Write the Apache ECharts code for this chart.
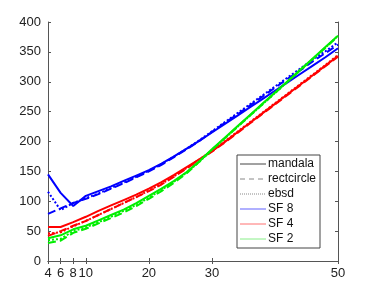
<!DOCTYPE html>
<html>
<head>
<meta charset="utf-8">
<script src="https://cdn.jsdelivr.net/npm/echarts@6/dist/echarts.min.js"></script>
<style>html,body{margin:0;padding:0;background:#fff}#c{width:374px;height:295px}</style>
</head>
<body>
<div id="c"></div>
<script>
const xs = [4,6,8,10,12,14,16,18,20,22,24,26,28,30,32,34,36,38,40,42,44,46,48,50];
const xTicks = [4,6,8,10,20,30,50];
const yTicks = [0,50,100,150,200,250,300,350,400];

const sf8Mandala    = [145,114,92,109,117,125,134,143,152,163,175,188,201,215,229,243,257,271,285,299,313,327,341,356];
const sf8Rectcircle = [79,88,97,104,112,121,130,140,150,161,174,187,201,216,231,245,260,275,290,305,319,334,348,362];
const sf8Ebsd       = [116,85,97,105,113,122,131,141,151,162,175,188,202,217,232,247,262,277,292,307,322,337,351,366];

const sf4Mandala    = [57,57,65,74,84,93,102,111,121,132,144,157,170,184,199,215,231,247,263,279,295,311,327,343];
const sf4Rectcircle = [42,50,59,67,77,87,97,107,117,128,141,155,169,183,198,214,230,246,262,278,294,310,326,342];
const sf4Ebsd       = [46,48,58,67,77,87,97,107,118,129,142,156,170,184,200,216,232,248,264,280,296,312,328,345];

const sf2Mandala    = [38,43,53,59,68,77,86,97,109,121,134,149,167,187,206,225,244,263,282,301,320,339,358,377];
const sf2Rectcircle = [30,34,47,54,63,72,81,92,104,117,131,147,166,186,205,224,243,262,281,300,319,338,357,376];
const sf2Ebsd       = [35,37,50,56,65,74,84,94,106,119,133,148,166,186,205,224,243,262,281,300,319,338,357,377];

const pairs = ys => xs.map((x,i)=>[x, ys[i]]);
const FONT = 'Liberation Sans, Arial, sans-serif';

function mk(ys, color, type){
  return {type:'line', data: pairs(ys), showSymbol:false, symbol:'none', silent:true,
          lineStyle:{color:color, width:2, type:type}, z: 3};
}
function dummy(name, color, type, w){
  return {type:'line', name:name, data:[], symbol:'none', showSymbol:false,
          lineStyle:{color:color, width:w, type:type}, itemStyle:{color:color}};
}
function legItem(name, color, type, w){
  return {name:name, lineStyle:{color:color, width:w, type:type}, itemStyle:{opacity:0, borderWidth:0}};
}

const chart = echarts.init(document.getElementById('c'), null, {renderer:'canvas'});
const axisLineStyle = {color:'#555', width:1};
chart.setOption({
  animation:false,
  backgroundColor:'#fff',
  grid:{left:48, right:36, top:22, bottom:34},
  legend:{
    orient:'vertical', left:237, top:155,
    data:[
      legItem('mandala','#444','solid',1),
      legItem('rectcircle','#888',[5,4],1),
      legItem('ebsd','#888',[1,1],1),
      legItem('SF 8','#b0b0ff','solid',2),
      legItem('SF 4','#ff7070','solid',1),
      legItem('SF 2','#88ee88','solid',1)
    ],
    itemWidth:26, itemHeight:12, itemGap:3,
    padding:[3,4,3,2],
    itemStyle:{opacity:0, borderWidth:0},
    borderColor:'#444', borderWidth:1, backgroundColor:'#fff',
    textStyle:{fontFamily:FONT, fontSize:12, color:'#111', padding:[0,0,0,-3]},
    selectedMode:false
  },
  xAxis:[{
    type:'value', min:4, max:50, interval:2, position:'bottom',
    axisLine:{show:true, lineStyle:axisLineStyle},
    axisTick:{show:true, inside:true, length:3, customValues:xTicks, lineStyle:axisLineStyle},
    axisLabel:{customValues:xTicks, fontFamily:FONT, fontSize:13, color:'#222', margin:6},
    splitLine:{show:false}
  },{
    type:'value', min:4, max:50, interval:2, position:'top',
    axisLine:{show:true, lineStyle:axisLineStyle},
    axisTick:{show:true, inside:true, length:3, customValues:xTicks, lineStyle:axisLineStyle},
    axisLabel:{show:false},
    splitLine:{show:false}
  }],
  yAxis:[{
    type:'value', min:0, max:400, interval:50, position:'left',
    axisLine:{show:true, lineStyle:axisLineStyle},
    axisTick:{show:true, inside:true, length:3, lineStyle:axisLineStyle},
    axisLabel:{fontFamily:FONT, fontSize:13, color:'#222', margin:7},
    splitLine:{show:false}
  },{
    type:'value', min:0, max:400, interval:50, position:'right',
    axisLine:{show:true, lineStyle:axisLineStyle},
    axisTick:{show:true, inside:true, length:3, lineStyle:axisLineStyle},
    axisLabel:{show:false},
    splitLine:{show:false}
  }],
  series:[
    mk(sf8Mandala,'#0000ff','solid'),
    mk(sf8Rectcircle,'#0000ff','dashed'),
    mk(sf8Ebsd,'#0000ff','dotted'),
    mk(sf4Mandala,'#ff0000','solid'),
    mk(sf4Rectcircle,'#ff0000','dashed'),
    mk(sf4Ebsd,'#ff0000','dotted'),
    mk(sf2Mandala,'#00ee00','solid'),
    mk(sf2Rectcircle,'#00ee00','dashed'),
    mk(sf2Ebsd,'#00ee00','dotted'),
    dummy('mandala','#444','solid',1),
    dummy('rectcircle','#888',[5,4],1),
    dummy('ebsd','#888',[1,1],1),
    dummy('SF 8','#b0b0ff','solid',2),
    dummy('SF 4','#ff7070','solid',1),
    dummy('SF 2','#88ee88','solid',1)
  ]
});
</script>
</body>
</html>
